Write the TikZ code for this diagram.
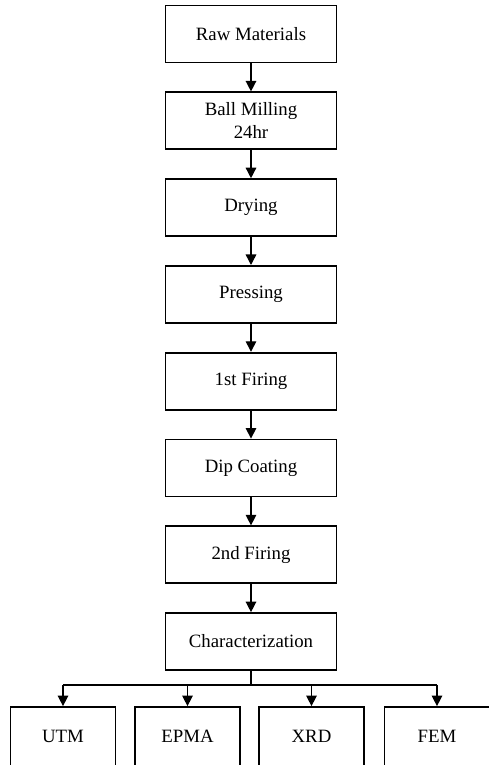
\documentclass[tikz,border=0pt]{standalone}
\usepackage{fontspec}
\setmainfont{Liberation Serif}
\usetikzlibrary{arrows.meta, positioning, calc}

\tikzset{
  stagebox/.style={draw=black, line width=1pt, fill=white, minimum width=3.42cm, minimum height=1.14cm,
    align=center, inner sep=2pt, font=\fontsize{10.7}{13}\selectfont},
  testbox/.style={stagebox, minimum width=2.1cm, minimum height=1.2cm, text height=1.6ex, text depth=0.3ex},
  flow/.style={line width=0.8pt, -{Triangle[width=6pt,length=6pt]}},
  busline/.style={line width=0.8pt}
}

\begin{document}
\begin{tikzpicture}[x=0.02cm, y=-0.02cm, node distance=0.561cm]
  % fondo y marco
  \fill[white] (0,0) rectangle (489,765);
  \useasboundingbox (0,0) rectangle (489,765);

  % etapas del proceso
  \node[stagebox] (raw) at (251,34) {Raw Materials};
  \node[stagebox, below=of raw] (mill) {Ball Milling\\24hr};
  \node[stagebox, below=of mill] (dry) {Drying};
  \node[stagebox, below=of dry] (press) {Pressing};
  \node[stagebox, below=of press] (fire1) {1st Firing};
  \node[stagebox, below=of fire1] (dip) {Dip Coating};
  \node[stagebox, below=of dip] (fire2) {2nd Firing};
  \node[stagebox, below=of fire2] (char) {Characterization};

  \foreach \a/\b in {raw/mill, mill/dry, dry/press, press/fire1, fire1/dip, dip/fire2, fire2/char}
    \draw[flow] (\a.south) -- (\b.north);

  % ensayos
  \node[testbox] (utm) at (63,737) {UTM};
  \node[testbox] (epma) at (187.5,737) {EPMA};
  \node[testbox] (xrd) at (311.5,737) {XRD};
  \node[testbox] (fem) at (437,737) {FEM};

  \coordinate (bus) at ($(char.south)+(0,14)$);
  \draw[busline] (char.south) -- (bus);
  \draw[busline] (bus -| utm) -- (bus -| fem);
  \foreach \t in {utm, epma, xrd, fem}
    \draw[flow] (bus -| \t) -- (\t.north);
\end{tikzpicture}
\end{document}
